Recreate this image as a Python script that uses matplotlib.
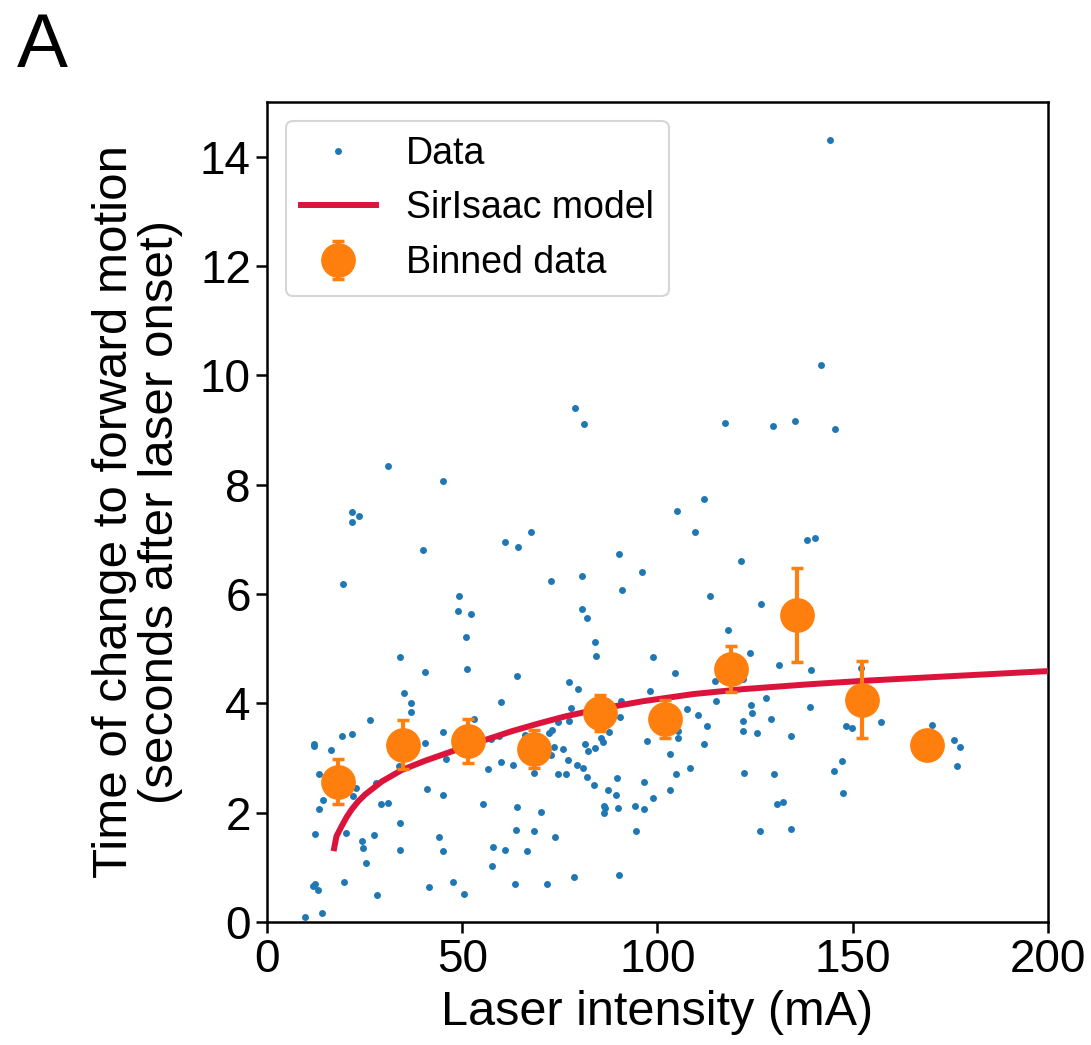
import matplotlib
matplotlib.use("Agg")
import matplotlib.pyplot as plt

plt.rcParams['font.family'] = ['Liberation Sans', 'DejaVu Sans']

# Individual trials: laser intensity (mA) and time to forward motion (s)
data_x = [
    9.7, 14.1, 11.7, 12.2, 13.1, 19.8, 28.2, 41.6, 47.6, 50.4, 63.4, 71.6, 78.5, 90.1,
    25.3, 57.7, 24.3, 24.6, 34.1, 44.0, 45.0, 12.4, 20.2, 27.5, 34.1, 58.0, 60.9, 63.7,
    66.6, 68.3, 73.8, 94.4, 126.2, 134.3, 13.3, 14.3, 22.0, 22.7, 27.9, 29.1, 31.1, 40.9,
    45.2, 55.3, 63.9, 70.2, 86.3, 86.6, 86.3, 89.9, 94.2, 96.5, 130.5, 132.1, 147.4, 13.3,
    33.8, 45.9, 56.5, 59.8, 63.0, 68.5, 74.5, 76.5, 77.0, 79.3, 81.0, 81.9, 83.7, 87.2,
    89.4, 89.6, 96.5, 98.8, 103.3, 104.7, 108.3, 122.2, 129.9, 145.3, 147.2, 176.7, 12.0,
    12.0, 16.5, 19.1, 21.7, 26.5, 40.5, 45.0, 52.9, 57.4, 59.3, 66.0, 72.1, 73.0, 72.7,
    73.5, 75.9, 74.5, 77.4, 81.4, 82.2, 83.9, 85.5, 86.0, 87.5, 90.5, 97.2, 103.3, 105.2,
    105.2, 111.9, 112.7, 121.8, 122.0, 125.4, 129.0, 134.3, 148.2, 149.8, 157.3, 170.2,
    175.9, 177.5, 35.1, 37.0, 37.0, 59.8, 77.8, 90.6, 107.6, 110.3, 115.1, 123.9, 124.2,
    127.8, 139.1, 34.1, 40.5, 51.2, 63.9, 77.4, 79.6, 98.2, 104.5, 114.8, 121.8, 131.1,
    139.3, 152.0, 84.3, 98.8, 123.7, 83.9, 51.0, 118.1, 49.2, 49.0, 52.2, 80.7, 81.9,
    113.4, 126.6, 19.5, 72.8, 80.7, 90.9, 96.1, 121.3, 90.1, 39.9, 61.0, 64.2, 67.6,
    109.5, 138.3, 140.3, 21.7, 23.5, 21.7, 105.0, 111.9, 45.0, 31.0, 78.9, 81.3, 117.2,
    129.7, 135.3, 145.5, 141.8, 144.2,
]
data_y = [
    0.10, 0.17, 0.66, 0.69, 0.59, 0.73, 0.49, 0.64, 0.73, 0.52, 0.70, 0.70, 0.83, 0.86,
    1.08, 1.03, 1.49, 1.35, 1.31, 1.55, 1.29, 1.61, 1.63, 1.60, 1.82, 1.38, 1.32, 1.69,
    1.29, 1.67, 1.55, 1.67, 1.67, 1.71, 2.07, 2.23, 2.30, 2.45, 2.54, 2.16, 2.18, 2.43,
    2.32, 2.15, 2.10, 2.01, 2.13, 2.09, 1.99, 2.08, 2.12, 2.06, 2.15, 2.20, 2.36, 2.70,
    2.86, 2.98, 2.79, 2.92, 2.88, 2.73, 2.70, 2.70, 2.97, 2.88, 2.82, 2.65, 2.51, 2.42,
    2.33, 2.63, 2.57, 2.26, 2.42, 2.70, 2.82, 2.73, 2.71, 2.76, 2.95, 2.86, 3.26,
    3.22, 3.14, 3.41, 3.44, 3.70, 3.28, 3.47, 3.71, 3.35, 3.40, 3.42, 3.45, 3.52, 3.05,
    3.21, 3.17, 3.65, 3.67, 3.26, 3.13, 3.19, 3.36, 3.30, 3.47, 3.75, 3.31, 3.07, 3.50,
    3.36, 3.25, 3.58, 3.67, 3.50, 3.45, 3.71, 3.40, 3.58, 3.54, 3.66, 3.61,
    3.33, 3.20, 4.19, 4.00, 3.84, 4.02, 3.91, 4.05, 3.90, 3.78, 4.04, 3.97, 3.82,
    4.09, 3.93, 4.84, 4.57, 4.62, 4.50, 4.39, 4.27, 4.23, 4.55, 4.41, 4.44, 4.70,
    4.61, 4.65, 4.87, 4.85, 4.92, 5.12, 5.21, 5.35, 5.97, 5.69, 5.63, 5.72, 5.56,
    5.96, 5.82, 6.18, 6.23, 6.33, 6.07, 6.40, 6.61, 6.74, 6.80, 6.96, 6.86, 7.13,
    7.14, 6.99, 7.03, 7.31, 7.42, 7.50, 7.52, 7.73, 8.07, 8.35, 9.41, 9.11, 9.13,
    9.07, 9.17, 9.02, 10.19, 14.31,
]

# SirIsaac model prediction
model_x = [17.2, 17.8, 19.1, 20.4, 21.7, 23.4, 25.1, 29.4, 34.5, 40.5, 47.3, 55.0,
           62.7, 69.5, 76.3, 85.3, 96.4, 109.2, 122.0, 139.1, 152.3, 170.6, 200.0]
model_y = [1.35, 1.57, 1.75, 1.92, 2.06, 2.21, 2.33, 2.57, 2.78, 2.95, 3.12, 3.31,
           3.49, 3.63, 3.76, 3.90, 4.04, 4.17, 4.26, 4.35, 4.41, 4.48, 4.59]

# Binned means with standard errors
bin_x = [18.1, 34.9, 51.6, 68.5, 85.2, 102.0, 118.7, 135.6, 152.3, 169.1]
bin_y = [2.57, 3.24, 3.31, 3.16, 3.83, 3.71, 4.63, 5.62, 4.07, 3.24]
bin_err = [0.42, 0.45, 0.41, 0.35, 0.33, 0.35, 0.42, 0.86, 0.70, 0.0]

fig = plt.figure(figsize=(10.91, 10.45), dpi=100)
ax = fig.add_axes([0.2447, 0.1177, 0.9606 - 0.2447, 0.9024 - 0.1177])

ax.plot(data_x, data_y, 'o', color='#1f77b4', markersize=5, markeredgewidth=0,
        linestyle='none', label='Data', zorder=2)
ax.plot(model_x, model_y, '-', color='crimson', linewidth=4.3,
        solid_joinstyle='round', label='SirIsaac model', zorder=3)
ax.errorbar(bin_x, bin_y, yerr=bin_err, fmt='o', color='#ff7f0e', markersize=24,
            elinewidth=3, capsize=4.5, capthick=2.5, label='Binned data', zorder=4)

ax.set_xlim(0, 200)
ax.set_ylim(0, 15)
ax.set_xticks([0, 50, 100, 150, 200])
ax.set_yticks([0, 2, 4, 6, 8, 10, 12, 14])
ax.tick_params(labelsize=33, length=8, width=1.8, direction='out')
for s in ax.spines.values():
    s.set_linewidth(1.8)

ax.set_xlabel('Laser intensity (mA)', fontsize=35, labelpad=6)
ax.set_ylabel('Time of change to forward motion\n(seconds after laser onset)',
              fontsize=35.5, labelpad=12, linespacing=1.05)

leg = ax.legend(loc='upper left', fontsize=27, frameon=True, borderaxespad=0.5)
leg.get_frame().set_linewidth(1.5)

fig.text(17 / 1091, 1 - 67 / 1045, 'A', fontsize=55, va='baseline', ha='left')

fig.savefig('out.png', dpi=100)
